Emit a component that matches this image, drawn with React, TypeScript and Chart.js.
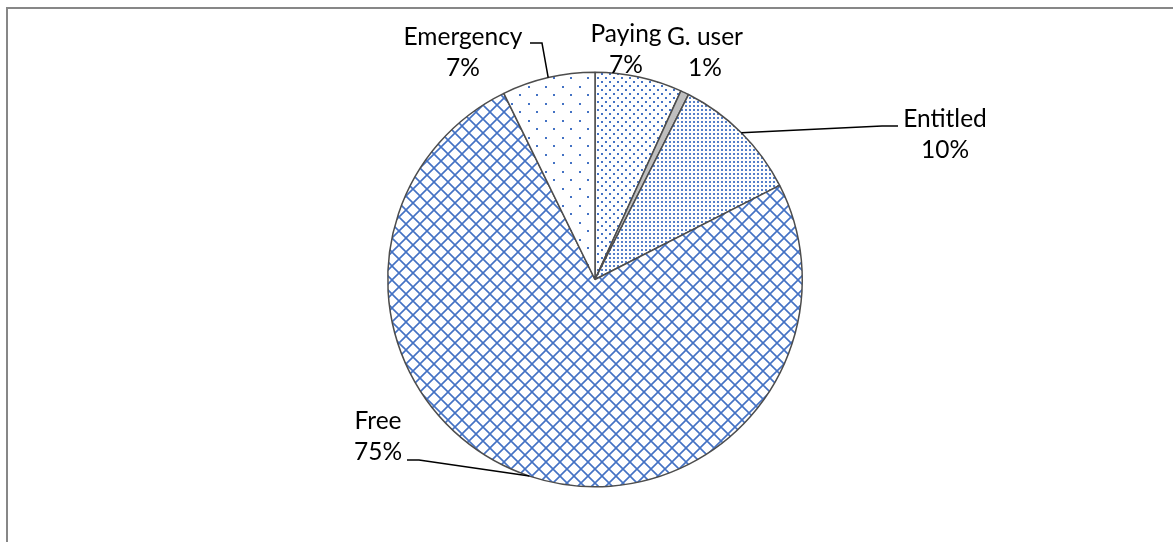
import React, { useEffect, useRef } from "react";
import { Chart, registerables } from "chart.js";

Chart.register(...registerables);

// ---- data ----
const categories = ["Paying", "G. user", "Entitled", "Free", "Emergency"];
const shares = [6.8, 0.65, 10.05, 75.25, 7.25];

// ---- styling / layout (not data) ----
const BLUE = "#4472C4";
const FONT = "24.5px Lato";
const LINE_GAP = 31;
// label anchor: text centre x and first-line baseline y
const labelLayout = [
  { x: 626, y: 42, leader: null as null | number[][] },
  { x: 705, y: 45, leader: null as null | number[][] },
  { x: 945, y: 127, leader: [[898, 126], [882, 126]] },
  { x: 378, y: 429, leader: [[407, 460], [419, 460]] },
  { x: 463, y: 45, leader: [[530, 43], [542, 43]] },
];

function makePattern(
  target: CanvasRenderingContext2D,
  w: number,
  h: number,
  draw: (c: CanvasRenderingContext2D) => void
): CanvasPattern | string {
  const t = document.createElement("canvas");
  t.width = w;
  t.height = h;
  const c = t.getContext("2d")!;
  c.fillStyle = "#ffffff";
  c.fillRect(0, 0, w, h);
  draw(c);
  return target.createPattern(t, "repeat") || "#fff";
}

const framePlugin = {
  id: "frame",
  beforeDraw(chart: any) {
    const ctx = chart.ctx;
    ctx.save();
    ctx.fillStyle = "#ffffff";
    ctx.fillRect(0, 0, chart.width, chart.height);
    ctx.strokeStyle = "#878787";
    ctx.lineWidth = 2;
    ctx.strokeRect(7, 8, chart.width + 50, chart.height + 50);
    ctx.restore();
  },
};

const labelPlugin = {
  id: "pieLabels",
  afterDraw(chart: any) {
    const ctx: CanvasRenderingContext2D = chart.ctx;
    const meta = chart.getDatasetMeta(0);
    const data: number[] = chart.data.datasets[0].data;
    const total = data.reduce((a, b) => a + b, 0);
    ctx.save();
    ctx.font = FONT;
    ctx.fillStyle = "#000000";
    ctx.textAlign = "center";
    ctx.textBaseline = "alphabetic";
    meta.data.forEach((arc: any, i: number) => {
      const lay = labelLayout[i];
      const name = chart.data.labels[i];
      const pct = Math.round((data[i] / total) * 100) + "%";
      ctx.fillText(name, lay.x, lay.y);
      ctx.fillText(pct, lay.x, lay.y + LINE_GAP);
      if (lay.leader) {
        const mid = (arc.startAngle + arc.endAngle) / 2;
        const ex = arc.x + Math.cos(mid) * arc.outerRadius;
        const ey = arc.y + Math.sin(mid) * arc.outerRadius;
        ctx.beginPath();
        ctx.strokeStyle = "#000000";
        ctx.lineWidth = 1.5;
        ctx.moveTo(lay.leader[0][0], lay.leader[0][1]);
        for (let k = 1; k < lay.leader.length; k++) ctx.lineTo(lay.leader[k][0], lay.leader[k][1]);
        ctx.lineTo(ex, ey);
        ctx.stroke();
      }
    });
    ctx.restore();
  },
};

export default function App() {
  const ref = useRef<HTMLCanvasElement | null>(null);
  useEffect(() => {
    const canvas = ref.current!;
    const tctx = canvas.getContext("2d")!;

    const paying = makePattern(tctx, 8, 8, (c) => {
      c.fillStyle = BLUE;
      c.fillRect(1, 1, 2, 2);
      c.fillRect(5, 5, 2, 2);
    });
    const guser = "#BFBFBF";
    const entitled = makePattern(tctx, 4, 4, (c) => {
      c.fillStyle = BLUE;
      c.globalAlpha = 0.9;
      c.fillRect(1, 1, 2, 2);
    });
    const free = makePattern(tctx, 14, 14, (c) => {
      c.strokeStyle = BLUE;
      c.lineWidth = 1.6;
      c.beginPath();
      c.moveTo(-1, -1);
      c.lineTo(15, 15);
      c.moveTo(15, -1);
      c.lineTo(-1, 15);
      c.stroke();
    });
    const emergency = makePattern(tctx, 17, 17, (c) => {
      c.fillStyle = BLUE;
      c.fillRect(1, 1, 2, 2);
      c.fillRect(9, 9, 2, 2);
    });

    const chart = new Chart(canvas, {
      type: "pie",
      data: {
        labels: categories,
        datasets: [
          {
            data: shares,
            backgroundColor: [paying, guser, entitled, free, emergency] as any,
            borderColor: "#4d4d4d",
            borderWidth: 1.5,
          },
        ],
      },
      options: {
        responsive: false,
        animation: false,
        layout: { padding: { left: 387, right: 370, top: 71.5, bottom: 54.5 } },
        plugins: {
          legend: { display: false },
          tooltip: { enabled: false },
        },
      },
      plugins: [framePlugin, labelPlugin],
    });
    return () => chart.destroy();
  }, []);

  return (
    <div style={{ position: "fixed", left: 0, top: 0, width: 1173, height: 542, background: "#fff" }}>
      <canvas ref={ref} width={1173} height={542} style={{ display: "block" }} />
    </div>
  );
}
